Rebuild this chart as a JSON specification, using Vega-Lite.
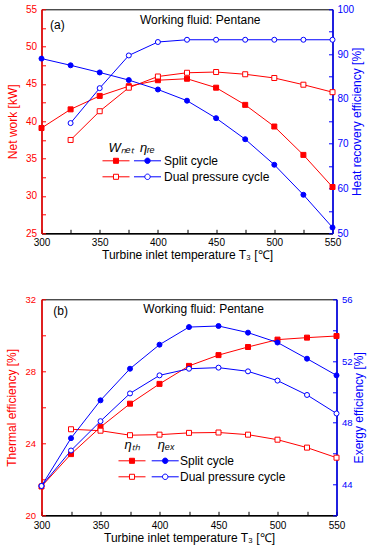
{
  "$schema": "https://vega.github.io/schema/vega-lite/v6.json",
  "autosize": {"type": "none"},
  "padding": {"left": 41.5, "top": 9.3, "right": 331.5, "bottom": 540.7},
  "bounds": "flush",
  "spacing": 66,
  "background": "white",
  "config": {
    "font": "Liberation Sans",
    "view": {"stroke": "black", "strokeWidth": 1},
    "axis": {
      "grid": false,
      "labelFont": "Liberation Sans",
      "titleFont": "Liberation Sans",
      "titleFontWeight": "normal",
      "labelFontSize": 10,
      "titleFontSize": 12,
      "tickSize": -4,
      "tickWidth": 1,
      "domainWidth": 1.5,
      "labelFlush": false,
      "labelOverlap": false
    },
    "legend": {
      "orient": "none",
      "padding": 0,
      "titleFont": "Liberation Sans",
      "labelFont": "Liberation Sans",
      "titleFontSize": 13,
      "titleFontWeight": "normal",
      "titleFontStyle": "italic",
      "titleColor": "black",
      "labelFontSize": 12,
      "labelColor": "black",
      "rowPadding": 2,
      "symbolSize": 196,
      "symbolStrokeWidth": 1,
      "symbolOpacity": 1
    },
    "text": {"font": "Liberation Sans"}
  },
  "resolve": {"scale": {"x": "independent", "y": "independent", "fill": "independent"}},
  "datasets": {
    "a": [
      {"T": 300, "cycle": "Split cycle", "net": 39.1, "hre": 89.0},
      {"T": 325, "cycle": "Split cycle", "net": 41.6, "hre": 87.5},
      {"T": 350, "cycle": "Split cycle", "net": 43.4, "hre": 85.9},
      {"T": 375, "cycle": "Split cycle", "net": 44.7, "hre": 84.2},
      {"T": 400, "cycle": "Split cycle", "net": 45.5, "hre": 82.1},
      {"T": 425, "cycle": "Split cycle", "net": 45.7, "hre": 79.6},
      {"T": 450, "cycle": "Split cycle", "net": 44.5, "hre": 75.7},
      {"T": 475, "cycle": "Split cycle", "net": 42.2, "hre": 71.0},
      {"T": 500, "cycle": "Split cycle", "net": 39.3, "hre": 65.3},
      {"T": 525, "cycle": "Split cycle", "net": 35.5, "hre": 58.6},
      {"T": 550, "cycle": "Split cycle", "net": 31.2, "hre": 51.3},
      {"T": 325, "cycle": "Dual pressure cycle", "net": 37.5, "hre": 74.6},
      {"T": 350, "cycle": "Dual pressure cycle", "net": 41.35, "hre": 82.4},
      {"T": 375, "cycle": "Dual pressure cycle", "net": 44.5, "hre": 89.7},
      {"T": 400, "cycle": "Dual pressure cycle", "net": 46.0, "hre": 92.7},
      {"T": 425, "cycle": "Dual pressure cycle", "net": 46.5, "hre": 93.2},
      {"T": 450, "cycle": "Dual pressure cycle", "net": 46.6, "hre": 93.2},
      {"T": 475, "cycle": "Dual pressure cycle", "net": 46.3, "hre": 93.2},
      {"T": 500, "cycle": "Dual pressure cycle", "net": 45.8, "hre": 93.2},
      {"T": 525, "cycle": "Dual pressure cycle", "net": 44.9, "hre": 93.2},
      {"T": 550, "cycle": "Dual pressure cycle", "net": 43.9, "hre": 93.2}
    ],
    "b": [
      {"T": 300, "cycle": "Split cycle", "th": 21.6, "ex": 43.9},
      {"T": 325, "cycle": "Split cycle", "th": 23.4, "ex": 47.0},
      {"T": 350, "cycle": "Split cycle", "th": 24.9, "ex": 49.45},
      {"T": 375, "cycle": "Split cycle", "th": 26.2, "ex": 51.5},
      {"T": 400, "cycle": "Split cycle", "th": 27.3, "ex": 53.06},
      {"T": 425, "cycle": "Split cycle", "th": 28.3, "ex": 54.2},
      {"T": 450, "cycle": "Split cycle", "th": 28.9, "ex": 54.27},
      {"T": 475, "cycle": "Split cycle", "th": 29.35, "ex": 53.84},
      {"T": 500, "cycle": "Split cycle", "th": 29.76, "ex": 53.2},
      {"T": 525, "cycle": "Split cycle", "th": 29.87, "ex": 52.15},
      {"T": 550, "cycle": "Split cycle", "th": 29.96, "ex": 51.07},
      {"T": 300, "cycle": "Dual pressure cycle", "th": null, "ex": 43.9},
      {"T": 325, "cycle": "Dual pressure cycle", "th": 24.78, "ex": 46.2},
      {"T": 350, "cycle": "Dual pressure cycle", "th": 24.7, "ex": 48.1},
      {"T": 375, "cycle": "Dual pressure cycle", "th": 24.45, "ex": 49.9},
      {"T": 400, "cycle": "Dual pressure cycle", "th": 24.48, "ex": 51.07},
      {"T": 425, "cycle": "Dual pressure cycle", "th": 24.58, "ex": 51.5},
      {"T": 450, "cycle": "Dual pressure cycle", "th": 24.6, "ex": 51.57},
      {"T": 475, "cycle": "Dual pressure cycle", "th": 24.48, "ex": 51.33},
      {"T": 500, "cycle": "Dual pressure cycle", "th": 24.2, "ex": 50.73},
      {"T": 525, "cycle": "Dual pressure cycle", "th": 23.76, "ex": 49.8},
      {"T": 550, "cycle": "Dual pressure cycle", "th": 23.2, "ex": 48.6}
    ]
  },
  "vconcat": [
    {
      "width": 291,
      "height": 224,
      "data": {"name": "a"},
      "encoding": {
        "x": {
          "field": "T", "type": "quantitative",
          "scale": {"domain": [300, 550], "nice": false, "zero": false},
          "axis": {
            "values": [300, 325, 350, 375, 400, 425, 450, 475, 500, 525, 550],
            "labelExpr": "datum.value % 50 === 0 ? datum.label : ''",
            "labelPadding": 8,
            "title": "Turbine inlet temperature T₃ [℃]",
            "titlePadding": 2,
            "domainColor": "black", "tickColor": "black", "labelColor": "black", "titleColor": "black"
          }
        }
      },
      "layer": [
        {
          "encoding": {
            "y": {
              "field": "net", "type": "quantitative",
              "scale": {"domain": [25, 55], "nice": false, "zero": false},
              "axis": {
                "orient": "left",
                "values": [25, 27.5, 30, 32.5, 35, 37.5, 40, 42.5, 45, 47.5, 50, 52.5, 55],
                "labelExpr": "datum.value % 5 === 0 ? datum.label : ''",
                "labelPadding": 9,
                "title": "Net work [kW]",
                "titlePadding": 6,
                "domainColor": "red", "tickColor": "red", "labelColor": "red", "titleColor": "red"
              }
            }
          },
          "layer": [
            {"mark": {"type": "line", "color": "red", "strokeWidth": 1}, "encoding": {"detail": {"field": "cycle"}}},
            {
              "mark": {"type": "point", "shape": "square", "filled": true, "stroke": "red", "strokeWidth": 1, "size": 25, "opacity": 1},
              "encoding": {
                "fill": {
                  "field": "cycle",
                  "scale": {"domain": ["Split cycle", "Dual pressure cycle"], "range": ["red", "white"]},
                  "legend": {
                    "title": "Wₙₑₜ",
                    "legendX": 67,
                    "legendY": 133,
                    "titlePadding": -2,
                    "labelExpr": "''",
                    "labelOffset": 9,
                    "symbolType": "M-1.93,0H-0.36M0.36,0H1.93M-0.36,-0.36H0.36V0.36H-0.36Z",
                    "symbolStrokeColor": "red"
                  }
                }
              }
            },
            {
              "transform": [{"filter": "datum.T === 300"}],
              "mark": {"type": "text", "align": "left", "baseline": "alphabetic", "fontSize": 12, "fill": "black"},
              "encoding": {"x": {"datum": 307.3}, "y": {"datum": 52.4}, "text": {"value": "(a)"}, "detail": null}
            },
            {
              "transform": [{"filter": "datum.T === 300"}],
              "mark": {"type": "text", "align": "left", "baseline": "alphabetic", "fontSize": 12, "fill": "black"},
              "encoding": {"x": {"datum": 384.6}, "y": {"datum": 53.08}, "text": {"value": "Working fluid: Pentane"}, "detail": null}
            }
          ]
        },
        {
          "encoding": {
            "y": {
              "field": "hre", "type": "quantitative",
              "scale": {"domain": [50, 100], "nice": false, "zero": false},
              "axis": {
                "orient": "right",
                "values": [50, 55, 60, 65, 70, 75, 80, 85, 90, 95, 100],
                "labelExpr": "datum.value % 10 === 0 ? datum.label : ''",
                "labelPadding": 8.5,
                "title": "Heat recovery efficiency [%]",
                "titleAngle": 270,
                "titleBaseline": "top",
                "titlePadding": -2,
                "domainColor": "blue", "tickColor": "blue", "labelColor": "blue", "titleColor": "blue"
              }
            }
          },
          "layer": [
            {"mark": {"type": "line", "color": "blue", "strokeWidth": 1}, "encoding": {"detail": {"field": "cycle"}}},
            {
              "mark": {"type": "point", "shape": "circle", "filled": true, "stroke": "blue", "strokeWidth": 1, "size": 25, "opacity": 1},
              "encoding": {
                "fill": {
                  "field": "cycle",
                  "scale": {"domain": ["Split cycle", "Dual pressure cycle"], "range": ["blue", "white"]},
                  "legend": {
                    "title": " ηᵣₑ",
                    "legendX": 98.5,
                    "legendY": 133,
                    "titlePadding": -2,
                    "labelOffset": 9,
                    "symbolType": "M-1.93,0H-0.39M0.39,0H1.93M-0.39,0A0.39,0.39,0,1,1,0.39,0A0.39,0.39,0,1,1,-0.39,0Z",
                    "symbolStrokeColor": "blue"
                  }
                }
              }
            }
          ]
        }
      ],
      "resolve": {"scale": {"y": "independent", "fill": "independent"}, "legend": {"fill": "independent"}}
    },
    {
      "width": 295,
      "height": 216,
      "data": {"name": "b"},
      "encoding": {
        "x": {
          "field": "T", "type": "quantitative",
          "scale": {"domain": [300, 550], "nice": false, "zero": false},
          "axis": {
            "values": [300, 325, 350, 375, 400, 425, 450, 475, 500, 525, 550],
            "labelExpr": "datum.value % 50 === 0 ? datum.label : ''",
            "labelPadding": 9,
            "title": "Turbine inlet temperature T₃ [℃]",
            "titlePadding": 2,
            "domainColor": "black", "tickColor": "black", "labelColor": "black", "titleColor": "black"
          }
        }
      },
      "layer": [
        {
          "encoding": {
            "y": {
              "field": "th", "type": "quantitative",
              "scale": {"domain": [20, 32], "nice": false, "zero": false},
              "axis": {
                "orient": "left",
                "values": [20, 22, 24, 26, 28, 30, 32],
                "labelExpr": "datum.value % 4 === 0 ? datum.label : ''",
                "labelPadding": 10,
                "labelFontSize": 9.5,
                "title": "Thermal efficiency [%]",
                "titlePadding": 6,
                "domainColor": "red", "tickColor": "red", "labelColor": "red", "titleColor": "red"
              }
            }
          },
          "layer": [
            {"mark": {"type": "line", "color": "red", "strokeWidth": 1}, "encoding": {"detail": {"field": "cycle"}}},
            {
              "mark": {"type": "point", "shape": "square", "filled": true, "stroke": "red", "strokeWidth": 1, "size": 25, "opacity": 1},
              "encoding": {
                "fill": {
                  "field": "cycle",
                  "scale": {"domain": ["Split cycle", "Dual pressure cycle"], "range": ["red", "white"]},
                  "legend": {
                    "title": "ηₜₕ",
                    "legendX": 83,
                    "legendY": 140,
                    "titlePadding": 1,
                    "labelExpr": "''",
                    "labelOffset": 7.3,
                    "symbolType": "M-1.93,0H-0.36M0.36,0H1.93M-0.36,-0.36H0.36V0.36H-0.36Z",
                    "symbolStrokeColor": "red"
                  }
                }
              }
            },
            {
              "transform": [{"filter": "datum.T === 300"}],
              "mark": {"type": "text", "align": "left", "baseline": "alphabetic", "fontSize": 12, "fill": "black"},
              "encoding": {"x": {"datum": 310}, "y": {"datum": 31.13}, "text": {"value": "(b)"}, "detail": null}
            },
            {
              "transform": [{"filter": "datum.T === 300"}],
              "mark": {"type": "text", "align": "left", "baseline": "alphabetic", "fontSize": 12, "fill": "black"},
              "encoding": {"x": {"datum": 386.3}, "y": {"datum": 31.24}, "text": {"value": "Working fluid: Pentane"}, "detail": null}
            }
          ]
        },
        {
          "encoding": {
            "y": {
              "field": "ex", "type": "quantitative",
              "scale": {"domain": [42, 56], "nice": false, "zero": false},
              "axis": {
                "orient": "right",
                "values": [42, 44, 46, 48, 50, 52, 54, 56],
                "labelExpr": "datum.value % 4 === 0 ? datum.label : ''",
                "labelPadding": 9,
                "labelFontSize": 9.5,
                "title": "Exergy efficiency [%]",
                "titleAngle": 270,
                "titleBaseline": "top",
                "titlePadding": 1,
                "domainColor": "blue", "tickColor": "blue", "labelColor": "blue", "titleColor": "blue"
              }
            }
          },
          "layer": [
            {"mark": {"type": "line", "color": "blue", "strokeWidth": 1}, "encoding": {"detail": {"field": "cycle"}}},
            {
              "mark": {"type": "point", "shape": "circle", "filled": true, "stroke": "blue", "strokeWidth": 1, "size": 25, "opacity": 1},
              "encoding": {
                "fill": {
                  "field": "cycle",
                  "scale": {"domain": ["Split cycle", "Dual pressure cycle"], "range": ["blue", "white"]},
                  "legend": {
                    "title": "ηₑₓ",
                    "legendX": 116.2,
                    "legendY": 140,
                    "titlePadding": 1,
                    "labelOffset": 7.3,
                    "symbolType": "M-1.93,0H-0.39M0.39,0H1.93M-0.39,0A0.39,0.39,0,1,1,0.39,0A0.39,0.39,0,1,1,-0.39,0Z",
                    "symbolStrokeColor": "blue"
                  }
                }
              }
            }
          ]
        }
      ],
      "resolve": {"scale": {"y": "independent", "fill": "independent"}, "legend": {"fill": "independent"}}
    }
  ]
}
